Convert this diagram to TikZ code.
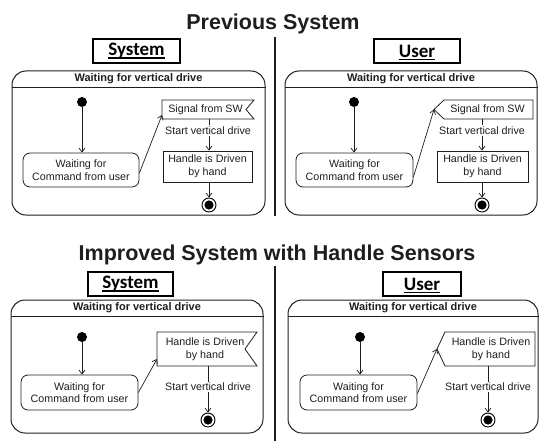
\documentclass[tikz,border=0pt]{standalone}
\usepackage{fontspec}
\setmainfont{Liberation Sans}
\newfontfamily\labelfont{Carlito}
\usetikzlibrary{arrows.meta,calc}
\definecolor{ink}{HTML}{1E1E1E}
\begin{document}
\begin{tikzpicture}[x=1pt,y=-1pt,
  every node/.style={inner sep=0pt, text=ink},
  txt/.style={font=\fontsize{10.7}{12.6}\selectfont, align=center},
  head/.style={font=\bfseries\fontsize{11}{12}\selectfont},
  title/.style={font=\bfseries\fontsize{21.5}{24}\selectfont, anchor=base},
  region/.style={draw=ink, line width=1pt, rounded corners=14pt},
  role/.style={draw=black, line width=1.8pt},
  roletext/.style={font=\labelfont\bfseries\fontsize{19}{20}\selectfont, text=black},
  startdot/.style={circle, fill=black, minimum size=10pt},
  wait/.style={txt, draw=ink, line width=0.8pt, rounded corners=7pt},
  act/.style={txt, draw=ink, line width=0.8pt},
  outline/.style={draw=ink, line width=0.8pt},
  endring/.style={circle, draw=black, line width=0.9pt, minimum size=14pt,
    path picture={\fill[black] (path picture bounding box.center) circle (4.6pt);}},
  flow/.style={draw=ink, line width=0.7pt, -{Straight Barb[length=4pt, width=6pt]}},
  guard/.style={txt, fill=white, inner ysep=1.5pt},
  divider/.style={draw=ink, line width=1.3pt}
]
\useasboundingbox (0,0) rectangle (540,441);

% ---------- titles and column dividers ----------
\node[title] (t1) at (273,30) {Previous System};
\node[title] (t2) at (277,260) {Improved System with Handle Sensors};
\coordinate (dv1a) at (275,37);  \coordinate (dv1b) at (275,216);
\coordinate (dv2a) at (275,266); \coordinate (dv2b) at (275,441);
\draw[divider] (dv1a) -- (dv1b);
\draw[divider] (dv2a) -- (dv2b);

% ---------- role boxes ----------
\node[role, minimum width=87pt, minimum height=24pt] (rb1) at (136.5,51) {};
\node[roletext] (rt1) at (rb1) {System};
\node[role, minimum width=86pt, minimum height=24pt] (rb2) at (417,51) {};
\node[roletext] (rt2) at (rb2) {User};
\node[role, minimum width=85pt, minimum height=24pt] (rb3) at (130.5,284) {};
\node[roletext] (rt3) at (rb3) {System};
\node[role, minimum width=78pt, minimum height=24pt] (rb4) at (422,284) {};
\node[roletext] (rt4) at (rb4) {User};
\foreach \r in {rt1,rt2,rt3,rt4}
  \draw[black, line width=1.2pt] ([yshift=-2.2pt]\r.base west) -- ([yshift=-2.2pt]\r.base east);

% ---------- composite states ----------
\node[region, minimum width=253pt, minimum height=144pt] (r1) at (138.5,143) {};
\node[region, minimum width=252pt, minimum height=144pt] (r2) at (411,143) {};
\node[region, minimum width=252pt, minimum height=133pt] (r3) at (137,366.5) {};
\node[region, minimum width=250pt, minimum height=133pt] (r4) at (413,366.5) {};
\foreach \r in {r1,r2,r3,r4}{
  \draw[draw=ink, line width=0.9pt] ($(\r.north west)+(0,16.5)$) -- ($(\r.north east)+(0,16.5)$);
  \node[head] at ($(\r.north)+(0,8.5)$) {Waiting for vertical drive};
}

% ---------- Previous system: System ----------
\node[startdot] (d1) at (82,102) {};
\node[wait, minimum width=116pt, minimum height=34pt] (w1) at (81,170) {Waiting for\\Command from user};
\node[txt] (s1) at (205.5,109.5) {Signal from SW};
\draw[outline] ($(s1)+(-43.5,-9.5)$) -- ($(s1)+(48.5,-9.5)$) -- ($(s1)+(40.5,0)$)
  -- ($(s1)+(48.5,9.5)$) -- ($(s1)+(-43.5,9.5)$) -- cycle;
\coordinate (s1in) at ($(s1)+(-43.5,5.5)$);
\coordinate (s1out) at ($(s1)+(0,9.5)$);
\node[act, minimum width=89pt, minimum height=31pt] (hd1) at (207.5,166.5) {Handle is Driven\\by hand};
\node[endring] (f1) at (209,205) {};
\draw[flow] (d1.south) -- (d1.south |- w1.north);
\draw[flow] ($(w1.east)+(0,3)$) -- (s1in);
\draw[flow] (s1out -| f1) -- (hd1.north -| f1);
\node[guard] (l1) at (208,130.5) {Start vertical drive};
\draw[flow] (hd1.south -| f1) -- (f1.north);

% ---------- Previous system: User ----------
\node[startdot] (d2) at (354,102) {};
\node[wait, minimum width=117pt, minimum height=34pt] (w2) at (354.5,170) {Waiting for\\Command from user};
\node[txt] (s2) at (487.5,109.5) {Signal from SW};
\draw[outline] ($(s2)+(-53.5,0)$) -- ($(s2)+(-43.5,-9.5)$) -- ($(s2)+(45.5,-9.5)$)
  -- ($(s2)+(45.5,9.5)$) -- ($(s2)+(-43.5,9.5)$) -- cycle;
\coordinate (s2in) at ($(s2)+(-53.5,0)$);
\coordinate (s2out) at ($(s2)+(0,9.5)$);
\node[act, minimum width=91pt, minimum height=31pt] (hd2) at (482.5,166.5) {Handle is Driven\\by hand};
\node[endring] (f2) at (482,205) {};
\draw[flow] (d2.south) -- (d2.south |- w2.north);
\draw[flow] ($(w2.east)+(0,7)$) -- (s2in);
\draw[flow] (s2out -| f2) -- (hd2.north -| f2);
\node[guard] (l2) at (482,130.5) {Start vertical drive};
\draw[flow] (hd2.south -| f2) -- (f2.north);

% ---------- Improved system: System ----------
\node[startdot] (d3) at (82,337) {};
\node[wait, minimum width=117pt, minimum height=35pt] (w3) at (79.5,392.5) {Waiting for\\Command from user};
\node[txt] (h3) at (205,349) {Handle is Driven\\by hand};
\draw[outline] ($(h3)+(-48,-17)$) -- ($(h3)+(52,-17)$) -- ($(h3)+(40,0)$)
  -- ($(h3)+(52,17)$) -- ($(h3)+(-48,17)$) -- cycle;
\coordinate (h3in) at ($(h3)+(-48,10)$);
\coordinate (h3out) at ($(h3)+(0,17)$);
\node[endring] (f3) at (208,420) {};
\draw[flow] (d3.south) -- (d3.south |- w3.north);
\draw[flow] ($(w3.east)+(0,0)$) -- (h3in);
\draw[flow] (h3out -| f3) -- (f3.north);
\node[guard] (l3) at (208,387) {Start vertical drive};

% ---------- Improved system: User ----------
\node[startdot] (d4) at (360,337) {};
\node[wait, minimum width=117pt, minimum height=35pt] (w4) at (358.5,392.5) {Waiting for\\Command from user};
\node[txt] (h4) at (491,349) {Handle is Driven\\by hand};
\draw[outline] ($(h4)+(-54,0)$) -- ($(h4)+(-46,-17)$) -- ($(h4)+(44,-17)$)
  -- ($(h4)+(44,17)$) -- ($(h4)+(-46,17)$) -- cycle;
\coordinate (h4in) at ($(h4)+(-54,0)$);
\coordinate (h4out) at ($(h4)+(-3,17)$);
\node[endring] (f4) at (488,420) {};
\draw[flow] (d4.south) -- (d4.south |- w4.north);
\draw[flow] ($(w4.east)+(0,1)$) -- (h4in);
\draw[flow] (h4out -| f4) -- (f4.north);
\node[guard] (l4) at (488,387) {Start vertical drive};
\end{tikzpicture}
\end{document}
